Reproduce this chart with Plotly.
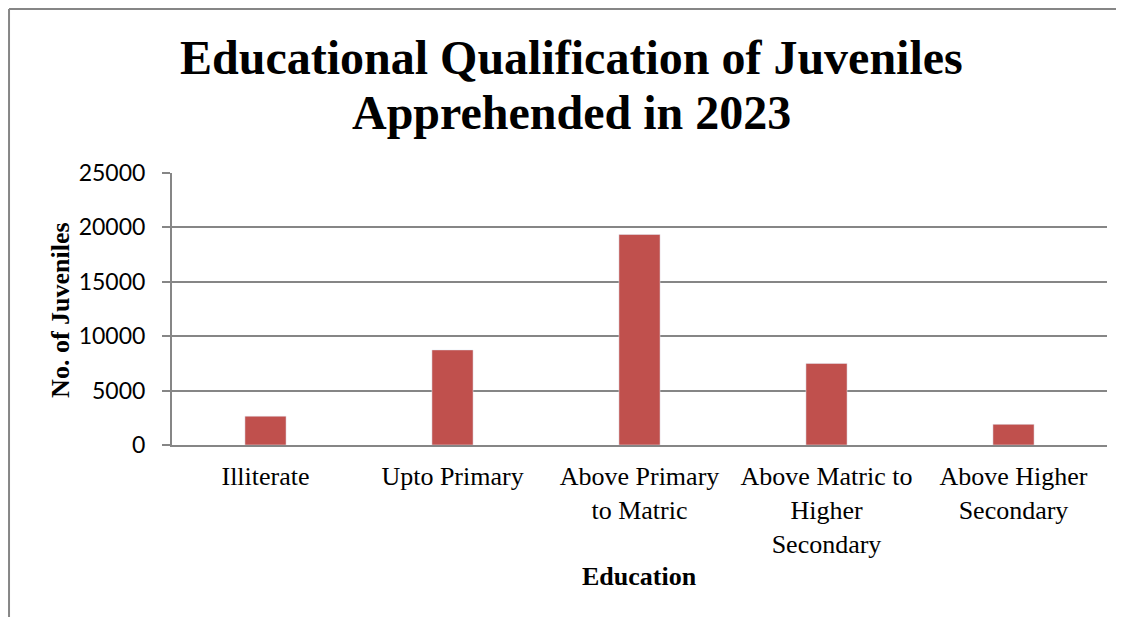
import plotly.graph_objects as go

categories = [
    "Illiterate",
    "Upto Primary",
    "Above Primary<br>to Matric",
    "Above Matric to<br>Higher<br>Secondary",
    "Above Higher<br>Secondary",
]
juveniles = [2650, 8740, 19350, 7500, 1900]
y_ticks = [0, 5000, 10000, 15000, 20000, 25000]
y_tick_labels = [str(v) for v in y_ticks]
title_lines = ["Educational Qualification of Juveniles", "Apprehended in 2023"]

grey = "#868686"
serif = "Liberation Serif"

fig = go.Figure()

fig.add_trace(go.Bar(
    x=categories,
    y=juveniles,
    marker_color="#C0504D",
    width=0.22,
    name="Juveniles",
))

# page body has an 8px margin, so margins are shifted to compensate
fig.update_layout(
    width=1124,
    height=617,
    paper_bgcolor="white",
    plot_bgcolor="white",
    showlegend=False,
    margin=dict(l=164, r=25, t=165, b=180),
    xaxis=dict(
        tickfont=dict(family=serif, size=26, color="black"),
        showline=True, linecolor=grey, linewidth=2,
        showgrid=False,
        ticks="",
        ticklabelstandoff=7,
    ),
    yaxis=dict(
        range=[0, 25000],
        tickvals=y_ticks,
        ticktext=y_tick_labels,
        tickfont=dict(family="Lato", size=23, color="black"),
        showline=True, linecolor=grey, linewidth=2,
        gridcolor=grey, gridwidth=2,
        ticks="outside", ticklen=8, tickcolor=grey, tickwidth=2,
        ticklabelstandoff=12,
        zeroline=False,
    ),
    shapes=[
        dict(type="line", xref="paper", yref="paper",
             x0=-0.1743, x1=1.2, y0=1.603, y1=1.603,
             line=dict(color=grey, width=2)),
        dict(type="line", xref="paper", yref="paper",
             x0=-0.1743, x1=-0.1743, y0=1.603, y1=-1.0,
             line=dict(color=grey, width=2)),
    ],
)

# title as two separate lines to get the tighter line spacing
for text, ypos in zip(title_lines, [1.4228, 1.2206]):
    fig.add_annotation(
        text=f"<b>{text}</b>", x=0.4273, y=ypos,
        xref="paper", yref="paper", xanchor="center", yanchor="middle",
        showarrow=False,
        font=dict(family=serif, size=48, color="black"),
    )

fig.add_annotation(
    text="<b>No. of Juveniles</b>", textangle=-90,
    x=-0.12, y=0.496, xref="paper", yref="paper",
    xanchor="center", yanchor="middle", showarrow=False,
    font=dict(family=serif, size=26, color="black"),
)
fig.add_annotation(
    text="<b>Education</b>",
    x=0.5, y=-0.485, xref="paper", yref="paper",
    xanchor="center", yanchor="middle", showarrow=False,
    font=dict(family=serif, size=26, color="black"),
)

fig.write_html("out.html")
